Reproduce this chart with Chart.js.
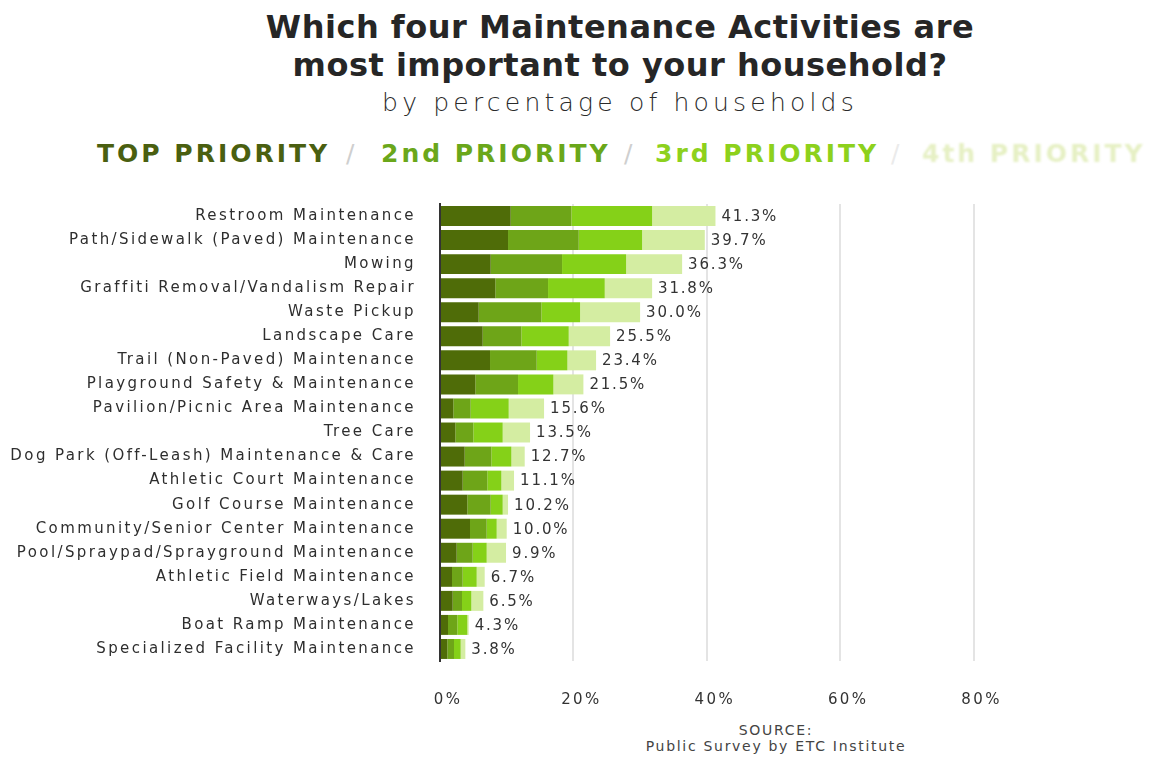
<!DOCTYPE html>
<html lang="en">
<head>
<meta charset="utf-8">
<title>Maintenance Activities</title>
<script src="https://cdn.jsdelivr.net/npm/chart.js@4"></script>
<style>
  html, body { margin: 0; padding: 0; background: #fff; }
  body { width: 1157px; height: 759px; position: relative; overflow: hidden; font-family: "DejaVu Sans", sans-serif; color: #2a2a2a; }
  .title { position: absolute; left: 0; top: 8px; width: 1240px; text-align: center; font-weight: bold; font-size: 32px; line-height: 38px; letter-spacing: 0.5px; color: #262626; }
  .subtitle { position: absolute; left: 0; top: 88px; width: 1240px; text-align: center; font-weight: 200; font-size: 25px; line-height: 30px; letter-spacing: 4.2px; color: #2a2a2a; }
  .legend span { position: absolute; top: 139px; font-size: 25px; line-height: 30px; font-weight: bold; letter-spacing: 3px; white-space: nowrap; }
  .legend .sep { font-weight: normal; color: #cfcfcf; letter-spacing: 0; }
  .source { position: absolute; left: 526px; top: 722px; width: 500px; text-align: center; font-size: 14px; line-height: 16px; letter-spacing: 1.7px; color: #444; }
  #wrap { position: absolute; left: 0; top: 190px; width: 1157px; height: 530px; }
</style>
</head>
<body>
<div class="title">Which four Maintenance Activities are<br>most important to your household?</div>
<div class="subtitle">by percentage of households</div>
<div class="legend">
  <span style="left:97px; color:#4a5f10;">TOP PRIORITY</span>
  <span class="sep" style="left:346px;">/</span>
  <span style="left:381px; color:#6aa71a;">2nd PRIORITY</span>
  <span class="sep" style="left:624px;">/</span>
  <span style="left:655px; color:#8dd11c;">3rd PRIORITY</span>
  <span class="sep" style="left:891px; color:#ebebeb;">/</span>
  <span style="left:922px; color:#e6f0c4; filter: blur(0.8px);">4th PRIORITY</span>
</div>
<div id="wrap"><canvas id="maintChart"></canvas></div>
<div class="source">SOURCE:<br>Public Survey by ETC Institute</div>

<script>
// Actividades, de mayor a menor porcentaje total
const activities = [
    'Restroom Maintenance',
    'Path/Sidewalk (Paved) Maintenance',
    'Mowing',
    'Graffiti Removal/Vandalism Repair',
    'Waste Pickup',
    'Landscape Care',
    'Trail (Non-Paved) Maintenance',
    'Playground Safety & Maintenance',
    'Pavilion/Picnic Area Maintenance',
    'Tree Care',
    'Dog Park (Off-Leash) Maintenance & Care',
    'Athletic Court Maintenance',
    'Golf Course Maintenance',
    'Community/Senior Center Maintenance',
    'Pool/Spraypad/Sprayground Maintenance',
    'Athletic Field Maintenance',
    'Waterways/Lakes',
    'Boat Ramp Maintenance',
    'Specialized Facility Maintenance'
];

// Porcentaje de hogares por prioridad
const topPriority    = [10.6, 10.2, 7.6, 8.3, 5.8, 6.4, 7.5, 5.3, 2.0, 2.3, 3.7, 3.4, 4.1, 4.5, 2.5, 1.8, 1.9, 1.2, 1.1];
const secondPriority = [9.1, 10.6, 10.7, 7.9, 9.4, 5.8, 7.0, 6.4, 2.6, 2.7, 4.0, 3.7, 3.5, 2.5, 2.4, 1.6, 1.4, 1.4, 1.0];
const thirdPriority  = [12.1, 9.5, 9.6, 8.5, 5.8, 7.1, 4.6, 5.3, 5.7, 4.4, 3.0, 2.1, 1.8, 1.5, 2.1, 2.1, 1.4, 1.5, 1.0];
const fourthPriority = [9.5, 9.4, 8.4, 7.1, 9.0, 6.2, 4.3, 4.5, 5.3, 4.1, 2.0, 1.9, 0.8, 1.5, 2.9, 1.2, 1.8, 0.2, 0.7];

const xTicks = [0, 20, 40, 60, 80];

const FONT = '"DejaVu Sans", sans-serif';

// Total al final de cada barra + espaciado de letras del canvas
const totalLabels = {
    id: 'totalLabels',
    beforeDraw(chart) {
        chart.ctx.letterSpacing = '2.4px';
    },
    afterDatasetsDraw(chart) {
        const { ctx, scales: { x, y } } = chart;
        ctx.save();
        ctx.letterSpacing = '1.8px';
        ctx.font = '15px ' + FONT;
        ctx.fillStyle = '#333';
        ctx.textAlign = 'left';
        ctx.textBaseline = 'middle';
        activities.forEach((name, i) => {
            const total = topPriority[i] + secondPriority[i] + thirdPriority[i] + fourthPriority[i];
            ctx.fillText(total.toFixed(1) + '%', x.getPixelForValue(total) + 6, y.getPixelForValue(i) + 1);
        });
        ctx.restore();
    }
};

const ctx = document.getElementById('maintChart').getContext('2d');
new Chart(ctx, {
    type: 'bar',
    data: {
        labels: activities,
        datasets: [
            { label: 'TOP PRIORITY', data: topPriority, backgroundColor: '#4f6c08' },
            { label: '2nd PRIORITY', data: secondPriority, backgroundColor: '#6ea518' },
            { label: '3rd PRIORITY', data: thirdPriority, backgroundColor: '#85d118' },
            { label: '4th PRIORITY', data: fourthPriority, backgroundColor: '#d4eda2' }
        ]
    },
    options: {
        indexAxis: 'y',
        responsive: true,
        maintainAspectRatio: false,
        animation: false,
        layout: { padding: { top: 14, right: 50, bottom: 0, left: 0 } },
        datasets: {
            bar: { barPercentage: 0.83, categoryPercentage: 1, borderWidth: 0 }
        },
        plugins: {
            legend: { display: false },
            tooltip: { enabled: false }
        },
        scales: {
            x: {
                stacked: true,
                min: 0,
                max: 100,
                afterBuildTicks: scale => { scale.ticks = xTicks.map(v => ({ value: v })); },
                afterFit: scale => { scale.height = 59; },
                border: { display: false },
                grid: { color: '#e4e4e4', lineWidth: 2, drawTicks: false },
                ticks: {
                    padding: 30,
                    labelOffset: 8,
                    color: '#333',
                    font: { family: FONT, size: 15 },
                    callback: v => v + '%'
                }
            },
            y: {
                stacked: true,
                afterFit: scale => {
                    scale.width = 440;
                    // sin margen extra arriba/abajo por las etiquetas
                    scale.paddingTop = 0;
                    scale.paddingBottom = 0;
                },
                border: { display: true, color: '#333', width: 2 },
                grid: { display: false, drawTicks: false },
                ticks: {
                    padding: 24,
                    color: '#2e2e2e',
                    font: { family: FONT, size: 15 }
                }
            }
        }
    },
    plugins: [totalLabels]
});
</script>
</body>
</html>
